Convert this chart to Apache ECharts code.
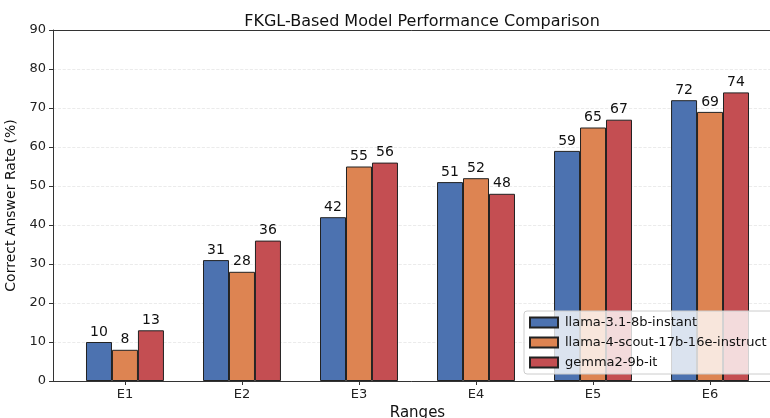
<!DOCTYPE html>
<html>
<head>
<meta charset="utf-8">
<script src="https://cdn.jsdelivr.net/npm/echarts@6/dist/echarts.min.js"></script>
<style>
  html, body { margin: 0; padding: 0; background: #fff; }
  #chart { width: 770px; height: 418px; }
</style>
</head>
<body>
<div id="chart"></div>
<script>
// data
var categories = ["E1", "E2", "E3", "E4", "E5", "E6"];
var seriesNames = ["llama-3.1-8b-instant", "llama-4-scout-17b-16e-instruct", "gemma2-9b-it"];
var llamaInstant = [10, 31, 42, 51, 59, 72];
var llamaScout = [8, 28, 55, 52, 65, 69];
var gemma = [13, 36, 56, 48, 67, 74];
var yTicks = [0, 10, 20, 30, 40, 50, 60, 70, 80, 90];

var colors = ["#4c72b0", "#dd8452", "#c44e52"];
var font = "DejaVu Sans";
var offsets = [-0.222, 0, 0.222]; // position of each bar inside its group

function makeSeries(idx, values) {
  return {
    name: seriesNames[idx],
    type: "bar",
    barWidth: 26,
    barGap: "-100%",
    data: values.map(function (v, i) { return [i + offsets[idx], v]; }),
    itemStyle: { color: colors[idx], borderColor: "#222", borderWidth: 1 },
    label: {
      show: true,
      position: "top",
      distance: 3,
      color: "#111",
      fontFamily: font,
      fontSize: 14,
      formatter: function (p) { return p.value[1]; }
    }
  };
}

var myChart = echarts.init(document.getElementById("chart"));
var option = {
  animation: false,
  textStyle: { fontFamily: font },
  title: {
    text: "FKGL-Based Model Performance Comparison",
    left: 417,
    textAlign: "center",
    top: 9,
    textStyle: { fontFamily: font, fontSize: 16, fontWeight: "normal", color: "#111" }
  },
  grid: {
    left: 53,
    right: -12,
    top: 30,
    bottom: 37,
    containLabel: false,
    outerBoundsMode: "none"
  },
  legend: {
    orient: "vertical",
    left: 524,
    top: 311,
    padding: [5, 8, 5, 5],
    icon: "rect",
    itemWidth: 28,
    itemHeight: 10,
    itemGap: 7,
    backgroundColor: "rgba(255,255,255,0.8)",
    borderColor: "#ccc",
    borderWidth: 1,
    borderRadius: 3,
    textStyle: { fontFamily: font, fontSize: 13, color: "#111", padding: [0, 0, 0, 2] },
    data: seriesNames
  },
  xAxis: [{
    type: "value",
    min: -0.615,
    max: 5.615,
    name: "Ranges",
    nameLocation: "middle",
    nameGap: 25,
    nameTextStyle: { fontFamily: font, fontSize: 15, color: "#111" },
    axisLine: { show: true, onZero: false, lineStyle: { color: "#333" } },
    axisTick: { show: true, length: 4, lineStyle: { color: "#333" }, customValues: [0, 1, 2, 3, 4, 5] },
    axisLabel: {
      customValues: [0, 1, 2, 3, 4, 5],
      color: "#222",
      fontFamily: font,
      fontSize: 13,
      margin: 7,
      formatter: function (v) { return categories[Math.round(v)]; }
    },
    splitLine: { show: false }
  }, {
    // top spine
    type: "value",
    position: "top",
    min: -0.615,
    max: 5.615,
    axisLine: { show: true, onZero: false, lineStyle: { color: "#333" } },
    axisTick: { show: false },
    axisLabel: { show: false },
    splitLine: { show: false }
  }],
  yAxis: {
    type: "value",
    min: 0,
    max: 90,
    interval: 10,
    name: "Correct Answer Rate (%)",
    nameLocation: "middle",
    nameGap: 31,
    nameTextStyle: { fontFamily: font, fontSize: 14, color: "#111" },
    axisLine: { show: true, onZero: false, lineStyle: { color: "#333" } },
    axisTick: { show: true, length: 4, lineStyle: { color: "#333" } },
    axisLabel: {
      color: "#222",
      fontFamily: font,
      fontSize: 13,
      margin: 7,
      formatter: function (v) { return yTicks.indexOf(v) >= 0 ? v : ""; }
    },
    splitLine: { show: true, lineStyle: { color: "#e6e6e6", type: "dashed", width: 0.8 } }
  },
  series: [
    makeSeries(0, llamaInstant),
    makeSeries(1, llamaScout),
    makeSeries(2, gemma)
  ]
};
myChart.setOption(option);
window.onresize = myChart.resize;
</script>
</body>
</html>
